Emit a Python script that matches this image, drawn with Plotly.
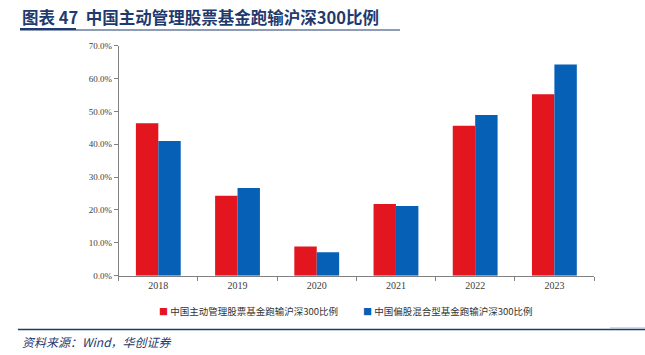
import plotly.graph_objects as go

years = ["2018", "2019", "2020", "2021", "2022", "2023"]
active_equity = [46.4, 24.3, 8.9, 21.8, 45.6, 55.2]
partial_equity_hybrid = [41.0, 26.7, 7.1, 21.2, 48.9, 64.3]
name_active = "中国主动管理股票基金跑输沪深300比例"
name_hybrid = "中国偏股混合型基金跑输沪深300比例"
y_ticks = [0, 10, 20, 30, 40, 50, 60, 70]
RED, BLUE = "#E3151E", "#0560B6"

W, H = 645, 355
fig = go.Figure()
fig.add_trace(go.Bar(x=years, y=active_equity, name=name_active, showlegend=False,
                     marker=dict(color=RED, line=dict(width=0))))
fig.add_trace(go.Bar(x=years, y=partial_equity_hybrid, name=name_hybrid, showlegend=False,
                     marker=dict(color=BLUE, line=dict(width=0))))

x0, x1 = 118.7, 594.0
ytop, ybot = 45.7, 275.7
fig.update_layout(
    width=W, height=H,
    margin=dict(l=0, r=0, t=0, b=0, autoexpand=False),
    paper_bgcolor="white", plot_bgcolor="white",
    barmode="group", bargap=0.434, bargroupgap=0,
    xaxis=dict(domain=[x0 / W, x1 / W], type="category", automargin=False,
               showline=True, linecolor="#808080", linewidth=1,
               ticks="outside", tickson="boundaries", ticklen=4, tickcolor="#808080",
               tickfont=dict(family="Liberation Serif", size=10, color="#404040"),
               showgrid=False),
    yaxis=dict(domain=[1 - ybot / H, 1 - ytop / H], range=[0, 70], automargin=False,
               tickvals=y_ticks, ticktext=[f"{v:.1f}%" for v in y_ticks],
               showline=True, linecolor="#808080", linewidth=1,
               ticks="outside", ticklen=4, tickcolor="#808080",
               tickfont=dict(family="Liberation Serif", size=9, color="#404040"),
               showgrid=False, zeroline=False),
    showlegend=False,
)

# legend row (small coloured squares followed by labels)
for lx, nm, col in [(157, name_active, RED), (361, name_hybrid, BLUE)]:
    fig.add_annotation(x=lx / W, y=1 - 311 / H, xref="paper", yref="paper",
                       xanchor="left", yanchor="middle", showarrow=False,
                       text=f"<span style='color:{col};font-size:9px'>■</span> {nm}",
                       font=dict(family="Noto Sans CJK SC", size=9.5, color="#333333"))

fig.add_annotation(x=20 / W, y=1 - 17 / H, xref="paper", yref="paper",
                   xanchor="left", yanchor="middle", showarrow=False,
                   text="<b>图表 47  中国主动管理股票基金跑输沪深300比例</b>",
                   font=dict(family="Noto Sans CJK SC", size=16.5, color="#1F3A6E"))
fig.add_shape(type="line", xref="paper", yref="paper",
              x0=20 / W, x1=400 / W, y0=1 - 30 / H, y1=1 - 30 / H,
              line=dict(color="#1F3A6E", width=1.2))
fig.add_shape(type="line", xref="paper", yref="paper",
              x0=20 / W, x1=76 / W, y0=1 - 29 / H, y1=1 - 29 / H,
              line=dict(color="#1F3A6E", width=2))
fig.add_shape(type="line", xref="paper", yref="paper",
              x0=18 / W, x1=1, y0=1 - 329.5 / H, y1=1 - 329.5 / H,
              line=dict(color="#1F3A6E", width=1.5))
fig.add_shape(type="line", xref="paper", yref="paper",
              x0=610 / W, x1=1, y0=1 - 328 / H, y1=1 - 328 / H,
              line=dict(color="#9DB5D6", width=1))
fig.add_annotation(x=20 / W, y=1 - 341 / H, xref="paper", yref="paper",
                   xanchor="left", yanchor="middle", showarrow=False,
                   text="<i>资料来源：Wind，华创证券</i>",
                   font=dict(family="Noto Sans CJK SC", size=12, color="#1F3A6E"))

fig.write_html("out.html", config={"displayModeBar": False},
               post_script="document.body.style.margin='0';document.body.style.overflow='hidden';")
